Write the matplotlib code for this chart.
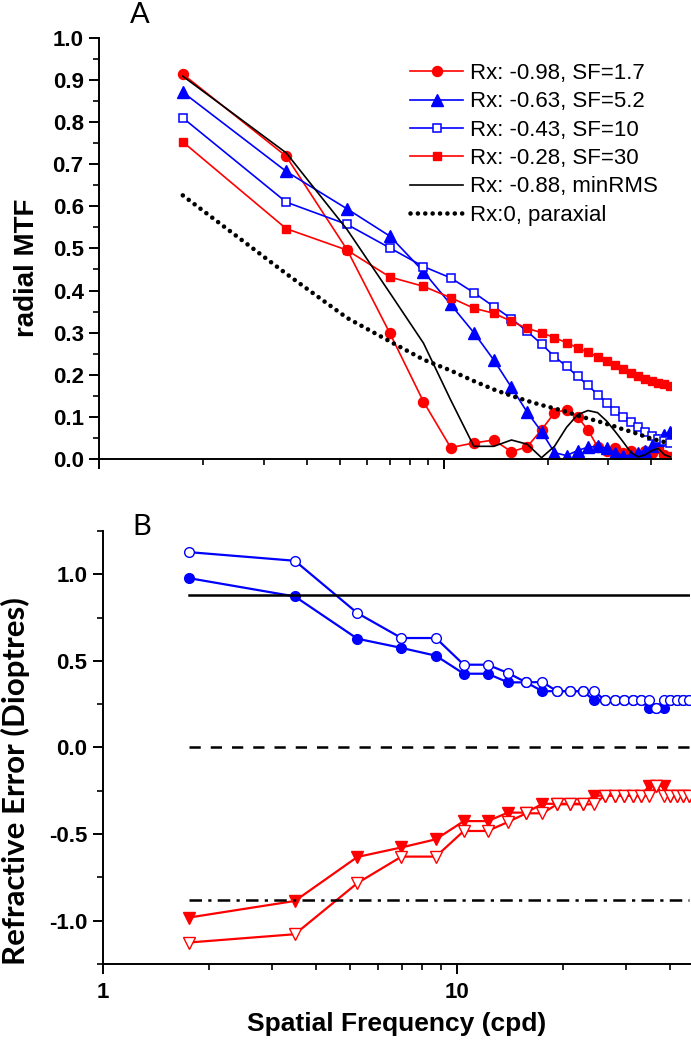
import matplotlib
matplotlib.use("Agg")
import matplotlib.pyplot as plt
from matplotlib.ticker import FixedLocator, MultipleLocator, FormatStrFormatter, NullFormatter

plt.rcParams['font.family'] = ['Liberation Sans', 'DejaVu Sans']
plt.rcParams['font.weight'] = 'bold'

# spatial frequency (cpd), same grid for every series
sf = [1.75, 3.49, 5.24, 6.98, 8.73, 10.47, 12.22, 13.96, 15.71, 17.45, 19.20, 20.94, 22.69,
      24.43, 26.18, 27.92, 29.67, 31.41, 33.16, 34.90, 36.65, 38.39, 40.14, 41.88, 43.63, 45.37]

# panel A: radial MTF
mtf_sf17 = [0.914, 0.719, 0.497, 0.298, 0.136, 0.027, 0.038, 0.045, 0.017, 0.029, 0.069, 0.110, 0.117,
            0.100, 0.069, 0.029, 0.020, 0.025, 0.015, 0.020, 0.010, 0.020, 0.015, 0.025, 0.010, 0.005]
mtf_sf52 = [0.871, 0.683, 0.594, 0.529, 0.445, 0.367, 0.300, 0.235, 0.170, 0.111, 0.065, 0.015, 0.008,
            0.020, 0.028, 0.030, 0.025, 0.015, 0.008, 0.008, 0.015, 0.020, 0.030, 0.045, 0.058, 0.065]
mtf_sf10 = [0.810, 0.610, 0.557, 0.501, 0.457, 0.430, 0.395, 0.362, 0.333, 0.303, 0.273, 0.243, 0.220,
            0.196, 0.175, 0.153, 0.134, 0.115, 0.099, 0.087, 0.075, 0.064, 0.055, 0.048, 0.043, 0.038]
mtf_sf30 = [0.753, 0.547, 0.496, 0.432, 0.410, 0.383, 0.358, 0.346, 0.327, 0.310, 0.300, 0.288, 0.276,
            0.264, 0.253, 0.243, 0.232, 0.222, 0.213, 0.204, 0.197, 0.190, 0.184, 0.180, 0.177, 0.173]
mtf_minrms = [0.909, 0.727, 0.545, 0.394, 0.275, 0.140, 0.030, 0.030, 0.045, 0.035, 0.003, 0.030, 0.075,
              0.105, 0.115, 0.110, 0.090, 0.065, 0.040, 0.015, 0.005, 0.010, 0.020, 0.025, 0.010, 0.005]
mtf_parax = [0.626, 0.440, 0.335, 0.279, 0.236, 0.210, 0.185, 0.165, 0.150, 0.138, 0.128, 0.120, 0.112,
             0.103, 0.096, 0.090, 0.083, 0.077, 0.070, 0.065, 0.059, 0.053, 0.048, 0.044, 0.040, 0.036]

labels_a = ["Rx: -0.98, SF=1.7", "Rx: -0.63, SF=5.2", "Rx: -0.43, SF=10",
            "Rx: -0.28, SF=30", "Rx: -0.88, minRMS", "Rx:0, paraxial"]

# panel B: refractive error (dioptres)
re_pos_open = [1.128, 1.078, 0.776, 0.632, 0.632, 0.478, 0.478, 0.430, 0.376, 0.378, 0.325, 0.325, 0.325,
               0.325, 0.274, 0.274, 0.274, 0.274, 0.274, 0.274, 0.226, 0.274, 0.274, 0.274, 0.274, 0.274]
re_pos_fill = [0.978, 0.872, 0.628, 0.575, 0.530, 0.426, 0.426, 0.376, 0.376, 0.325, 0.325, 0.325, 0.325,
               0.274, 0.274, 0.274, 0.274, 0.274, 0.274, 0.226, 0.226, 0.226, 0.274, 0.274, 0.274, 0.274]
re_neg_fill = [-0.982, -0.886, -0.632, -0.577, -0.530, -0.425, -0.425, -0.376, -0.376, -0.325, -0.325, -0.325, -0.325,
               -0.278, -0.278, -0.278, -0.278, -0.278, -0.278, -0.223, -0.223, -0.223, -0.278, -0.278, -0.278, -0.278]
re_neg_open = [-1.126, -1.078, -0.783, -0.630, -0.630, -0.482, -0.482, -0.430, -0.380, -0.380, -0.328, -0.328, -0.328,
               -0.328, -0.278, -0.278, -0.278, -0.278, -0.278, -0.278, -0.223, -0.278, -0.278, -0.278, -0.278, -0.278]
rx_minrms = 0.88

RED = '#ff0000'
BLUE = '#0000ff'

fig = plt.figure(figsize=(6.91, 10.5), dpi=100)
axA = fig.add_axes([0.1433, 0.5629, 0.8278, 0.4010])
axB = fig.add_axes([0.1486, 0.0819, 0.8500, 0.4124])

lw = 1.2
axA.plot(sf, mtf_sf17, '-', color=RED, lw=lw, marker='o', ms=7.2, label=labels_a[0])
axA.plot(sf, mtf_sf52, '-', color=BLUE, lw=lw, marker='^', ms=8, label=labels_a[1])
axA.plot(sf, mtf_sf10, '-', color=BLUE, lw=lw, marker='s', ms=6, mfc='white', mec=BLUE, mew=1.1, label=labels_a[2])
axA.plot(sf, mtf_sf30, '-', color=RED, lw=lw, marker='s', ms=6, label=labels_a[3])
axA.plot(sf, mtf_minrms, '-', color='black', lw=lw, label=labels_a[4])
axA.plot(sf, mtf_parax, color='black', lw=3.3, linestyle=(0, (0.01, 1.6)), dash_capstyle='round',
         label=labels_a[5])

leg = axA.legend(loc='upper left', bbox_to_anchor=(410 / 691, 1 - 63 / 1050), bbox_transform=fig.transFigure,
                 frameon=False, borderpad=0, borderaxespad=0, handlelength=2.4, handletextpad=0.3,
                 labelspacing=0.33, prop={'family': 'Liberation Sans', 'weight': 'normal', 'size': 16})

axB.plot(sf, re_pos_fill, '-', color=BLUE, lw=1.6, marker='o', ms=7)
axB.plot(sf, re_pos_open, '-', color=BLUE, lw=1.6, marker='o', ms=7, mfc='white', mec=BLUE, mew=1)
axB.plot(sf, re_neg_fill, '-', color=RED, lw=1.6, marker='v', ms=8)
axB.plot(sf, re_neg_open, '-', color=RED, lw=1.6, marker='v', ms=8, mfc='white', mec=RED, mew=1)
axB.plot([sf[0], sf[-1]], [rx_minrms, rx_minrms], '-', color='black', lw=1.8)
axB.plot([sf[0], sf[-1]], [0, 0], color='black', lw=1.8, linestyle=(0, (4.5, 4)))
axB.plot([sf[0], sf[-1]], [-rx_minrms, -rx_minrms], color='black', lw=1.8, linestyle=(0, (5, 2.5, 1.3, 2.5)))

for ax in (axA, axB):
    ax.set_xscale('log')
    ax.set_xlim(1, 45.6)
    ax.spines['top'].set_visible(False)
    ax.spines['right'].set_visible(False)
    ax.spines['left'].set_linewidth(1.4)
    ax.spines['bottom'].set_linewidth(1.4)
    ax.xaxis.set_major_locator(FixedLocator([1, 10]))
    ax.xaxis.set_minor_locator(FixedLocator([2, 3, 4, 5, 6, 7, 8, 9, 20, 30, 40]))
    ax.xaxis.set_minor_formatter(NullFormatter())
    ax.tick_params(which='major', direction='out', length=7, width=1.4, labelsize=16, pad=4)
    ax.tick_params(which='minor', direction='out', length=4, width=1.2)

axA.set_ylim(0, 1.0)
axA.yaxis.set_major_locator(MultipleLocator(0.1))
axA.yaxis.set_minor_locator(MultipleLocator(0.05))
axA.yaxis.set_major_formatter(FormatStrFormatter('%.1f'))
axA.xaxis.set_major_formatter(NullFormatter())

axB.set_ylim(-1.25, 1.25)
axB.yaxis.set_major_locator(MultipleLocator(0.5))
axB.yaxis.set_minor_locator(MultipleLocator(0.25))
axB.yaxis.set_major_formatter(FormatStrFormatter('%.1f'))
axB.set_xticklabels(['1', '10'])
axB.tick_params(axis='x', which='major', pad=6)

fig.text(27 / 691, 1 - 268 / 1050, 'radial MTF', rotation=90, ha='center', va='center', fontsize=20)
fig.text(15 / 691, 1 - 781 / 1050, 'Refractive Error (Dioptres)', rotation=90, ha='center', va='center',
         fontsize=22.5, family=['Lato', 'DejaVu Sans'])
fig.text(397 / 691, 1 - 1024 / 1050, 'Spatial Frequency (cpd)', ha='center', va='center', fontsize=19)
fig.text(140 / 691, 1 - 15 / 1050, 'A', ha='center', va='center', fontsize=21, weight='normal',
         family=['Lato', 'DejaVu Sans'])
fig.text(142 / 691, 1 - 527 / 1050, 'B', ha='center', va='center', fontsize=21, weight='normal',
         family=['Lato', 'DejaVu Sans'])

fig.savefig('out.png', dpi=100)
